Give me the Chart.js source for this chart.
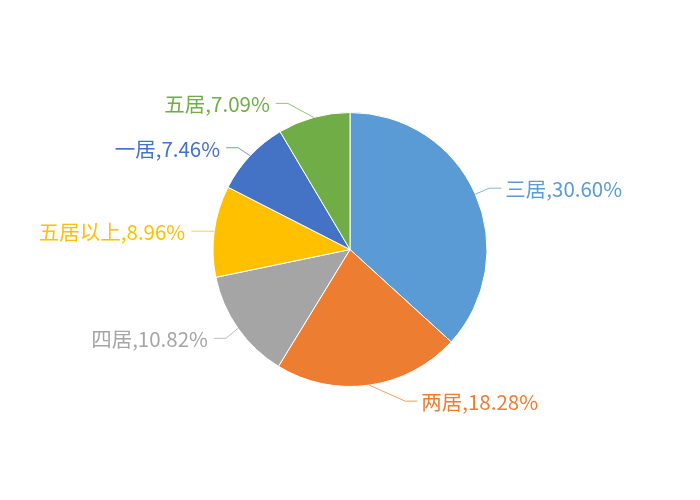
<!DOCTYPE html>
<html>
<head>
<meta charset="utf-8">
<script src="https://cdn.jsdelivr.net/npm/chart.js@4"></script>
<style>
  html, body { margin: 0; padding: 0; background: #fff; }
  #pie { display: block; }
</style>
</head>
<body>
<canvas id="pie" width="700" height="500"></canvas>
<script>
// 户型占比 饼图
var categories = ['三居', '两居', '四居', '五居以上', '一居', '五居'];
var shares = [30.60, 18.28, 10.82, 8.96, 7.46, 7.09];
var sliceColors = ['#5B9BD5', '#ED7D31', '#A5A5A5', '#FFC000', '#4472C4', '#70AD47'];

// 标签引线拐点：相对扇区外缘中点的偏移 (px)
var elbowOffsets = [[14, -6], [36, 16], [-12, 10], [-11, 0], [-12, -8], [-26, -14]];

var leaderLabels = {
  id: 'leaderLabels',
  afterDraw: function (chart) {
    var ctx = chart.ctx;
    var meta = chart.getDatasetMeta(0);
    ctx.save();
    ctx.font = '20.5px "Noto Sans CJK SC", "Noto Sans", sans-serif';
    ctx.textBaseline = 'middle';
    ctx.lineWidth = 1;
    meta.data.forEach(function (arc, i) {
      var p = arc.getProps(['x', 'y', 'startAngle', 'endAngle', 'outerRadius'], true);
      var mid = (p.startAngle + p.endAngle) / 2;
      var ex = p.x + Math.cos(mid) * p.outerRadius;
      var ey = p.y + Math.sin(mid) * p.outerRadius;
      var off = elbowOffsets[i];
      var bx = ex + off[0];
      var by = ey + off[1];
      var right = Math.cos(mid) >= 0;
      var hx = bx + (right ? 12 : -12);
      ctx.strokeStyle = sliceColors[i];
      ctx.globalAlpha = 0.75;
      ctx.beginPath();
      ctx.moveTo(ex, ey);
      ctx.lineTo(bx, by);
      ctx.lineTo(hx, by);
      ctx.stroke();
      ctx.globalAlpha = 1;
      ctx.fillStyle = sliceColors[i];
      ctx.textAlign = right ? 'left' : 'right';
      var text = categories[i] + ',' + shares[i].toFixed(2) + '%';
      ctx.fillText(text, hx + (right ? 4 : -6), by + 1);
    });
    ctx.restore();
  }
};

new Chart(document.getElementById('pie'), {
  type: 'pie',
  data: {
    labels: categories,
    datasets: [{
      data: shares,
      backgroundColor: sliceColors,
      borderColor: '#ffffff',
      borderWidth: 1
    }]
  },
  options: {
    responsive: false,
    animation: false,
    layout: { padding: { top: 112, bottom: 113, left: 100, right: 100 } },
    plugins: {
      legend: { display: false },
      tooltip: { enabled: false }
    }
  },
  plugins: [leaderLabels]
});
</script>
</body>
</html>
